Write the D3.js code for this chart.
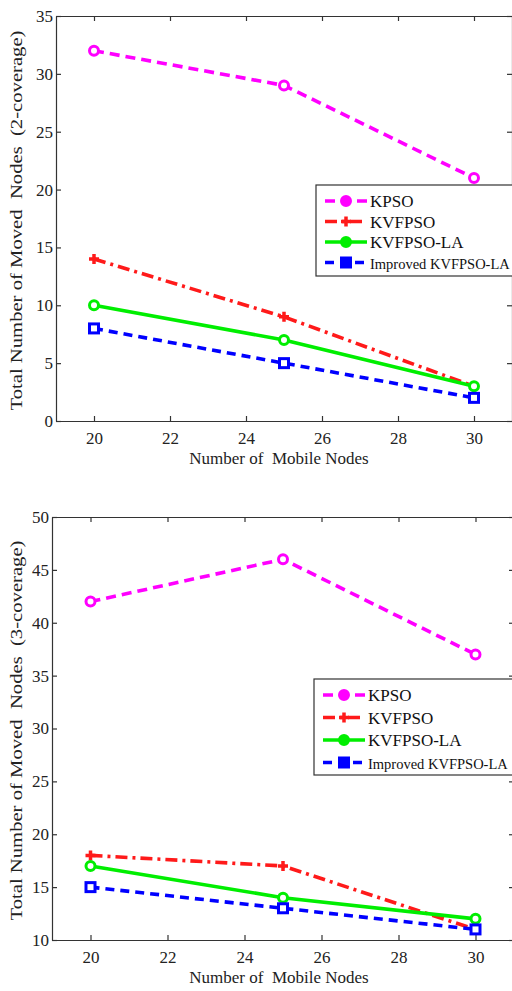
<!DOCTYPE html>
<html lang="en">
<head>
<meta charset="UTF-8">
<title>Moved Nodes</title>
<script src="https://d3js.org/d3.v7.min.js"></script>
<style>
  body { margin: 0; background: #fff; }
  svg { display: block; font-family: "Liberation Serif", "DejaVu Serif", serif; }
  .axis path, .axis line { stroke: #333; stroke-width: 1.2px; }
  .title { font-size: 17px; fill: #222; white-space: pre; }
  .legend text { font-size: 17px; fill: #111; }
</style>
</head>
<body>
<div id="chart"></div>
<script>
// x values (number of mobile nodes)
const nodes = [20, 25, 30];
const xTicks = [20, 22, 24, 26, 28, 30];
const seriesNames = ["KPSO", "KVFPSO", "KVFPSO-LA", "Improved KVFPSO-LA"];

// 2-coverage
const kpso2 = [32, 29, 21];
const kvfpso2 = [14, 9, 3];
const kvfpsoLa2 = [10, 7, 3];
const improved2 = [8, 5, 2];
const yTicks2 = [0, 5, 10, 15, 20, 25, 30, 35];

// 3-coverage
const kpso3 = [42, 46, 37];
const kvfpso3 = [18, 17, 11];
const kvfpsoLa3 = [17, 14, 12];
const improved3 = [15, 13, 11];
const yTicks3 = [10, 15, 20, 25, 30, 35, 40, 45, 50];

const styles = [
  { color: "#ff00ff", dash: "10,6", marker: "circle" },
  { color: "#ff1a1a", dash: "12,5,3,5", marker: "plus" },
  { color: "#00ee00", dash: null, marker: "circle" },
  { color: "#0000ff", dash: "9,6", marker: "square" }
];

const svg = d3.select("#chart").append("svg")
  .attr("width", 512).attr("height", 991);

function styleAxis(sel) {
  sel.attr("font-family", "Liberation Serif, serif").attr("font-size", 17);
  sel.selectAll("text").attr("fill", "#222");
}

function drawPanel(cfg) {
  const x = d3.scaleLinear().domain([19, 31]).range([cfg.left, cfg.right]);
  const y = d3.scaleLinear().domain(cfg.yDomain).range([cfg.bottom, cfg.top]);
  const g = svg.append("g");

  // axes with inward ticks (MATLAB style)
  g.append("g").attr("class", "axis")
    .attr("transform", `translate(0,${cfg.bottom})`)
    .call(d3.axisBottom(x).tickValues(xTicks).tickSizeInner(-5).tickSizeOuter(0).tickPadding(11))
    .call(styleAxis);
  g.append("g").attr("class", "axis")
    .attr("transform", `translate(0,${cfg.top})`)
    .call(d3.axisTop(x).tickValues(xTicks).tickSizeInner(-5).tickSizeOuter(0).tickFormat(""));
  g.append("g").attr("class", "axis")
    .attr("transform", `translate(${cfg.left},0)`)
    .call(d3.axisLeft(y).tickValues(cfg.yTicks).tickSizeInner(-5).tickSizeOuter(0).tickPadding(3))
    .call(styleAxis);
  g.append("g").attr("class", "axis")
    .attr("transform", `translate(${cfg.right},0)`)
    .call(d3.axisRight(y).tickValues(cfg.yTicks).tickSizeInner(-5).tickSizeOuter(0).tickFormat(""));

  // series
  cfg.series.forEach((vals, i) => {
    const st = styles[i];
    const pts = nodes.map((n, j) => [x(n), y(vals[j])]);
    g.append("path")
      .attr("d", d3.line()(pts))
      .attr("fill", "none")
      .attr("stroke", st.color)
      .attr("stroke-width", 3.6)
      .attr("stroke-dasharray", st.dash);
    pts.forEach(p => drawMarker(g, st, p[0], p[1]));
  });

  // axis titles
  g.append("text").attr("class", "title")
    .attr("x", 279).attr("y", cfg.bottom + 43)
    .attr("text-anchor", "middle")
    .text("Number of  Mobile Nodes");
  g.append("text").attr("class", "title")
    .attr("transform", `translate(22,${(cfg.top + cfg.bottom) / 2 + 2}) rotate(-90)`)
    .attr("text-anchor", "middle")
    .attr("textLength", 380).attr("lengthAdjust", "spacingAndGlyphs")
    .text(cfg.yLabel);

  // legend
  const lg = g.append("g").attr("class", "legend");
  lg.append("rect")
    .attr("x", cfg.legend.x).attr("y", cfg.legend.y)
    .attr("width", 220).attr("height", cfg.legend.h)
    .attr("fill", "#fff").attr("stroke", "#333").attr("stroke-width", 1.2);
  seriesNames.forEach((name, i) => {
    const st = styles[i];
    const ly = cfg.legend.y + 16 + i * cfg.legend.step;
    const x0 = cfg.legend.x + 9, x1 = cfg.legend.x + 51;
    lg.append("line")
      .attr("x1", x0).attr("x2", x1).attr("y1", ly).attr("y2", ly)
      .attr("stroke", st.color).attr("stroke-width", 3.6)
      .attr("stroke-dasharray", st.dash ? st.dash : null);
    drawMarker(lg, st, (x0 + x1) / 2, ly, true);
    const t = lg.append("text")
      .attr("x", x1 + 3).attr("y", ly + 6)
      .text(name);
    if (i === 3) t.style("font-size", "14.5px");
  });
}

function drawMarker(g, st, cx, cy, filled) {
  if (st.marker === "circle") {
    g.append("circle").attr("cx", cx).attr("cy", cy).attr("r", 4.5)
      .attr("fill", filled ? st.color : "#fff")
      .attr("stroke", st.color).attr("stroke-width", 3);
  } else if (st.marker === "square") {
    g.append("rect").attr("x", cx - 4.5).attr("y", cy - 4.5)
      .attr("width", 9).attr("height", 9)
      .attr("fill", filled ? st.color : "#fff")
      .attr("stroke", st.color).attr("stroke-width", 3);
  } else {
    g.append("path")
      .attr("d", `M${cx - 5},${cy}H${cx + 5}M${cx},${cy - 5}V${cy + 5}`)
      .attr("stroke", st.color).attr("stroke-width", 3.5);
  }
}

drawPanel({
  left: 56, right: 512, top: 16, bottom: 421,
  yDomain: [0, 35], yTicks: yTicks2,
  series: [kpso2, kvfpso2, kvfpsoLa2, improved2],
  yLabel: "Total Number of Moved  Nodes  (2-coverage)",
  legend: { x: 316, y: 185, h: 91, step: 20.5 }
});

drawPanel({
  left: 52, right: 514, top: 517, bottom: 940,
  yDomain: [10, 50], yTicks: yTicks3,
  series: [kpso3, kvfpso3, kvfpsoLa3, improved3],
  yLabel: "Total Number of Moved  Nodes  (3-coverage)",
  legend: { x: 314, y: 679, h: 96, step: 22.5 }
});
</script>
</body>
</html>
